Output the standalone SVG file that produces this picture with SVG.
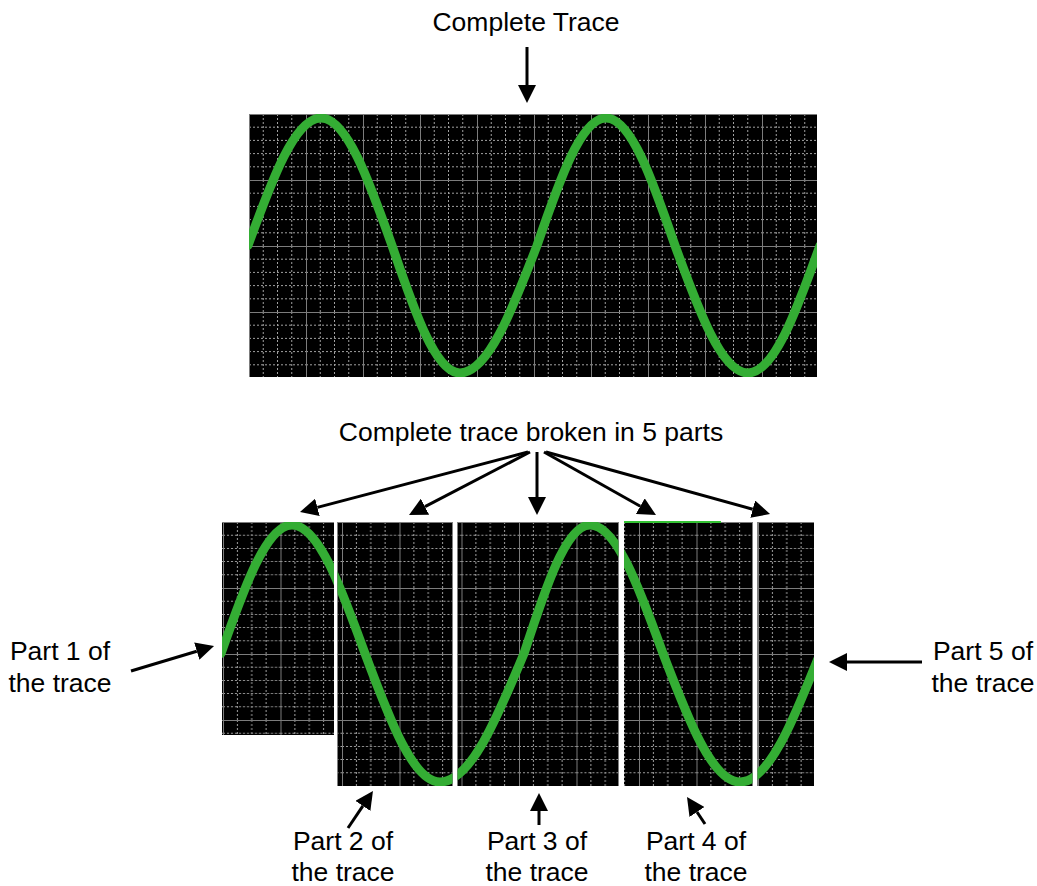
<svg xmlns="http://www.w3.org/2000/svg" xmlns:xlink="http://www.w3.org/1999/xlink" width="1037" height="886" viewBox="0 0 1037 886">
  <style>
    .lbl { font-family: "Liberation Sans", Arial, Helvetica, sans-serif; font-size: 26.5px; fill: #000; text-anchor: middle; }
    .scr { fill: #000; }
    .major { stroke: #7c7c7c; stroke-width: 1; fill: none; }
    .minor { stroke: #a0a0a0; stroke-width: 1; stroke-dasharray: 2 2; fill: none; }
    .trace { fill: none; stroke: #34ad34; stroke-width: 9; stroke-linecap: round; stroke-linejoin: round; }
    .conn { stroke: #000; stroke-width: 3; fill: none; marker-end: url(#ah); }
  </style>
  <defs>
    <marker id="ah" markerUnits="userSpaceOnUse" markerWidth="18" markerHeight="18" refX="0" refY="9" orient="auto" viewBox="0 0 18 18">
      <path d="M0,0 L18,9 L0,18 Z" fill="#000"/>
    </marker>
    <pattern id="gridT" patternUnits="userSpaceOnUse" x="249" y="114" width="57" height="66">
      <path class="minor" d="M14.25,0V66M28.5,0V66M42.75,0V66M0,13.2H57M0,26.4H57M0,39.6H57M0,52.8H57"/>
      <path class="major" d="M0.5,0V66M0,0.5H57"/>
    </pattern>
    <pattern id="gridB1" patternUnits="userSpaceOnUse" x="223" y="522" width="57.5" height="66">
      <path class="minor" d="M14.4,0V66M28.75,0V66M43.1,0V66M0,13.2H57.5M0,26.4H57.5M0,39.6H57.5M0,52.8H57.5"/>
      <path class="major" d="M0.5,0V66M0,0.5H57.5"/>
    </pattern>
    <pattern id="gridB2" patternUnits="userSpaceOnUse" x="342" y="522" width="57.5" height="66">
      <path class="minor" d="M14.4,0V66M28.75,0V66M43.1,0V66M0,13.2H57.5M0,26.4H57.5M0,39.6H57.5M0,52.8H57.5"/>
      <path class="major" d="M0.5,0V66M0,0.5H57.5"/>
    </pattern>
    <pattern id="gridB3" patternUnits="userSpaceOnUse" x="461.5" y="522" width="57.5" height="66">
      <path class="minor" d="M14.4,0V66M28.75,0V66M43.1,0V66M0,13.2H57.5M0,26.4H57.5M0,39.6H57.5M0,52.8H57.5"/>
      <path class="major" d="M0.5,0V66M0,0.5H57.5"/>
    </pattern>
    <pattern id="gridB4" patternUnits="userSpaceOnUse" x="639" y="522" width="57.5" height="66">
      <path class="minor" d="M14.4,0V66M28.75,0V66M43.1,0V66M0,13.2H57.5M0,26.4H57.5M0,39.6H57.5M0,52.8H57.5"/>
      <path class="major" d="M0.5,0V66M0,0.5H57.5"/>
    </pattern>
    <pattern id="gridB5" patternUnits="userSpaceOnUse" x="758" y="522" width="57.5" height="66">
      <path class="minor" d="M14.4,0V66M28.75,0V66M43.1,0V66M0,13.2H57.5M0,26.4H57.5M0,39.6H57.5M0,52.8H57.5"/>
      <path class="major" d="M0.5,0V66M0,0.5H57.5"/>
    </pattern>
    <clipPath id="clipT"><rect x="249" y="114" width="568" height="263"/></clipPath>
    <clipPath id="clipP1"><rect x="222" y="522" width="112" height="213"/></clipPath>
    <clipPath id="clipP2"><rect x="337.5" y="522" width="115" height="264"/></clipPath>
    <clipPath id="clipP3"><rect x="457.5" y="522" width="161" height="264"/></clipPath>
    <clipPath id="clipP4"><rect x="624" y="522" width="128.5" height="264"/></clipPath>
    <clipPath id="clipP5"><rect x="757.5" y="522" width="56.5" height="264"/></clipPath>
    <path id="traceT" class="trace" d="M248,245.5 C271.8,180.2 294.6,118 321,118 C346.7,118 368.8,180.2 392,245.5 C414.2,310.8 435.4,373 460,373 C487.9,373 511.9,310.8 537,245.5 C559.5,180.2 581,118 606,118 C631,118 652.5,180.2 675,245.5 C698.8,310.8 721.6,373 748,373 C774.1,373 796.5,310.8 820,245.5"/>
    <path id="traceB" class="trace" d="M221,653.5 C244.2,587.7 266.3,525 292,525 C318.4,525 341.2,587.7 365,653.5 C389.5,719.3 412.9,782 440,782 C470.4,782 496.6,719.3 524,653.5 C545.5,587.7 566.1,525 590,525 C616.4,525 639.2,587.7 663,653.5 C688.1,719.3 712.1,782 740,782 C769,782 793.9,719.3 820,653.5"/>
  </defs>

  <rect width="1037" height="886" fill="#fff"/>

  <g id="complete-trace-screen">
    <rect class="scr" x="249" y="114" width="568" height="263"/>
    <rect x="249" y="114" width="568" height="263" fill="url(#gridT)"/>
    <use xlink:href="#traceT" clip-path="url(#clipT)"/>
  </g>

  <g id="part-1-panel">
    <rect class="scr" x="222" y="522" width="112" height="213"/>
    <rect x="222" y="522" width="112" height="213" fill="url(#gridB1)"/>
    <use xlink:href="#traceB" clip-path="url(#clipP1)"/>
  </g>
  <g id="part-2-panel">
    <rect class="scr" x="337.5" y="522" width="115" height="264"/>
    <rect x="337.5" y="522" width="115" height="264" fill="url(#gridB2)"/>
    <use xlink:href="#traceB" clip-path="url(#clipP2)"/>
  </g>
  <g id="part-3-panel">
    <rect class="scr" x="457.5" y="522" width="161" height="264"/>
    <rect x="457.5" y="522" width="161" height="264" fill="url(#gridB3)"/>
    <use xlink:href="#traceB" clip-path="url(#clipP3)"/>
  </g>
  <g id="part-4-panel">
    <rect class="scr" x="624" y="522" width="128.5" height="264"/>
    <rect x="624" y="522" width="128.5" height="264" fill="url(#gridB4)"/>
    <use xlink:href="#traceB" clip-path="url(#clipP4)"/>
    <rect x="624" y="521" width="97" height="2" fill="#34c234"/>
  </g>
  <g id="part-5-panel">
    <rect class="scr" x="757.5" y="522" width="56.5" height="264"/>
    <rect x="757.5" y="522" width="56.5" height="264" fill="url(#gridB5)"/>
    <use xlink:href="#traceB" clip-path="url(#clipP5)"/>
  </g>

  <g id="label-complete-trace"><text class="lbl" x="526" y="31">Complete Trace</text></g>
  <g id="label-broken"><text class="lbl" x="531" y="441">Complete trace broken in 5 parts</text></g>
  <g id="label-part-1"><text class="lbl" x="60" y="660">Part 1 of</text><text class="lbl" x="60" y="692">the trace</text></g>
  <g id="label-part-5"><text class="lbl" x="983" y="660">Part 5 of</text><text class="lbl" x="983" y="692">the trace</text></g>
  <g id="label-part-2"><text class="lbl" x="343" y="850">Part 2 of</text><text class="lbl" x="343" y="881">the trace</text></g>
  <g id="label-part-3"><text class="lbl" x="537" y="850">Part 3 of</text><text class="lbl" x="537" y="881">the trace</text></g>
  <g id="label-part-4"><text class="lbl" x="696" y="850">Part 4 of</text><text class="lbl" x="696" y="881">the trace</text></g>

  <g id="connectors">
    <line class="conn" x1="527" y1="47" x2="527" y2="85"/>
    <line class="conn" x1="528" y1="452" x2="317.4" y2="507.4"/>
    <line class="conn" x1="530" y1="452" x2="425" y2="506.7"/>
    <line class="conn" x1="537" y1="452" x2="537" y2="497"/>
    <line class="conn" x1="544" y1="452" x2="640.3" y2="506.2"/>
    <line class="conn" x1="546" y1="452" x2="752.7" y2="509.2"/>
    <line class="conn" x1="131" y1="671" x2="196.8" y2="651.2"/>
    <line class="conn" x1="922" y1="662" x2="847" y2="662"/>
    <line class="conn" x1="348" y1="828" x2="362.9" y2="805.9"/>
    <line class="conn" x1="539" y1="825" x2="539" y2="811"/>
    <line class="conn" x1="705" y1="824" x2="697" y2="812"/>
  </g>
</svg>
